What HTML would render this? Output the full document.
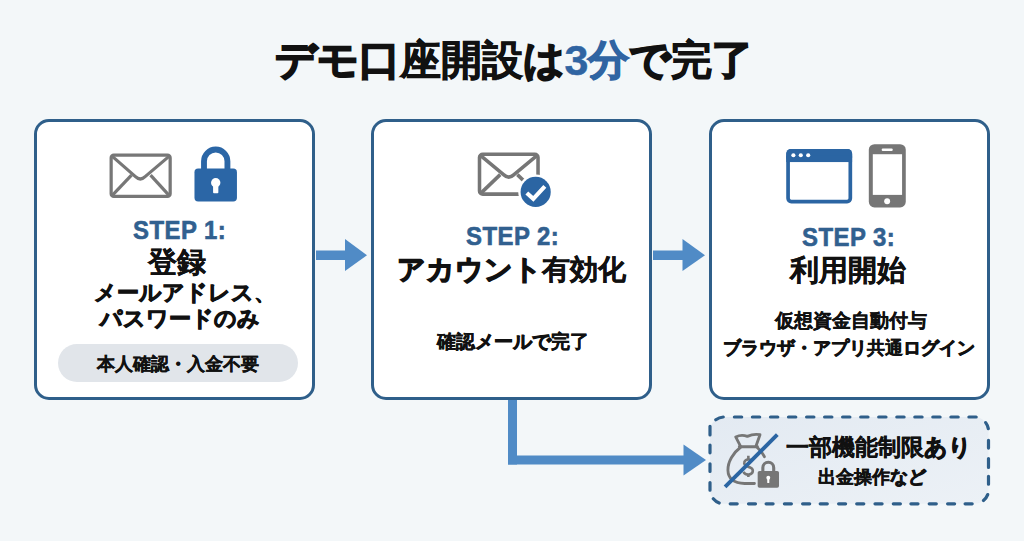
<!DOCTYPE html>
<html lang="ja">
<head>
<meta charset="utf-8">
<style>
html,body{margin:0;padding:0;}
body{width:1024px;height:541px;overflow:hidden;position:relative;background:#f3f7f9;font-family:"Liberation Sans",sans-serif;color:#111;}
.abs{position:absolute;}
.t{position:absolute;white-space:nowrap;text-align:left;font-weight:bold;line-height:1;}
.card{position:absolute;top:119px;width:275px;height:275px;border:3.5px solid #2f5f8a;border-radius:15px;background:#fff;}
.b3{color:#2f64a2;-webkit-text-stroke:1.3px #2f64a2;font-size:43px;}
.jp{position:relative;top:-1px;font-size:41px;}
.tk{-webkit-text-stroke:1.7px #111;}
.d3{-webkit-text-stroke:0.4px #2f64a2;}
</style>
</head>
<body>
<!-- Cards -->
<div class="card" style="left:34px;"></div>
<div class="card" style="left:371px;"></div>
<div class="card" style="left:709px;"></div>

<!-- arrows between cards -->
<svg class="abs" style="left:0;top:0" width="1024" height="541">
  <rect x="316" y="250.5" width="30" height="9.5" fill="#508bc6"/>
  <polygon points="345,239 367,255.2 345,271" fill="#508bc6"/>
  <rect x="653" y="250.5" width="30" height="9.5" fill="#508bc6"/>
  <polygon points="682.5,239 705,255.2 682.5,271" fill="#508bc6"/>
  <rect x="508" y="400" width="9" height="64.5" fill="#508bc6"/>
  <rect x="508" y="455.5" width="176" height="9" fill="#508bc6"/>
  <polygon points="683.5,444.5 706,460 683.5,475.5" fill="#508bc6"/>
  <defs><linearGradient id="dg" x1="0" y1="0" x2="1" y2="1"><stop offset="0" stop-color="#e3eaf2"/><stop offset="1" stop-color="#ecf1f6"/></linearGradient></defs>
  <!-- dashed box -->
  <path d="M724.0 417.0H974.5A14.0 14.0 0 0 1 988.5 431.0V489.8A14.0 14.0 0 0 1 974.5 503.8H724.0A14.0 14.0 0 0 1 710.0 489.8V431.0A14.0 14.0 0 0 1 724.0 417.0Z" fill="url(#dg)"/>
  <path d="M734.4 417.0H741.7M752.4 417.0H759.7M770.5 417.0H777.8M788.5 417.0H795.8M806.6 417.0H813.9M824.6 417.0H831.9M842.6 417.0H849.9M860.7 417.0H868.0M878.7 417.0H886.0M896.8 417.0H904.1M914.8 417.0H922.1M932.8 417.0H940.1M950.9 417.0H958.2M968.9 417.0H976.2M730.2 503.8H737.2M748.5 503.8H755.5M766.1 503.8H773.1M784.4 503.8H791.4M802.6 503.8H809.7M820.2 503.8H827.3M838.6 503.8H845.6M856.7 503.8H863.8M875.0 503.8H882.1M893.3 503.8H900.4M910.9 503.8H918.0M929.2 503.8H936.3M947.6 503.8H954.6M965.1 503.8H972.2M710.0 426.3V435.0M710.0 445.1V452.8M710.0 463.8V471.5M710.0 482.6V490.2M988.5 440.3V448.1M988.5 458.6V467.4M988.5 476.3V484.2M715.8 419.7A14.0 14.0 0 0 1 723.3 417.0M985.7 422.6A14.0 14.0 0 0 1 988.3 428.6M987.7 494.6A14.0 14.0 0 0 1 983.5 500.5M719.2 503.0A14.0 14.0 0 0 1 713.3 498.8" fill="none" stroke="#2f5f8a" stroke-width="3.2" stroke-linecap="round"/>
</svg>

<!-- Card 1 content -->
<svg class="abs" style="left:100px;top:140px" width="150" height="70" viewBox="0 0 1024 478">
  <rect x="76" y="103" width="403" height="282" rx="18" fill="none" stroke="#777" stroke-width="22"/>
  <path d="M82 110 L242 250 Q275 282 308 250 L473 110" fill="none" stroke="#777" stroke-width="22" stroke-linejoin="round"/>
  <line x1="82" y1="380" x2="215" y2="240" stroke="#777" stroke-width="22"/>
  <line x1="473" y1="380" x2="345" y2="240" stroke="#777" stroke-width="22"/>
  <path d="M710 205 V145 A80 80 0 0 1 870 145 V205" fill="none" stroke="#2b66a6" stroke-width="40"/>
  <rect x="645" y="195" width="290" height="225" rx="25" fill="#2b66a6"/>
  <circle cx="790" cy="292" r="32" fill="#fff"/>
  <rect x="772" y="295" width="36" height="68" rx="6" fill="#fff"/>
</svg>
<div class="abs" style="left:58px;top:344px;width:240px;height:38px;border-radius:19px;background:#e1e5ea;"></div>

<!-- Card 2 icon -->
<svg class="abs" style="left:460px;top:135px" width="120" height="80" viewBox="0 0 812 541">
  <defs><clipPath id="c2"><path d="M0 0 H812 V541 H0 Z M512 385 m-118 0 a118 118 0 1 0 236 0 a118 118 0 1 0 -236 0 Z" clip-rule="evenodd"/></clipPath></defs>
  <g clip-path="url(#c2)" fill="none" stroke="#767676" stroke-width="24">
    <rect x="132" y="130" width="396" height="270" rx="22"/>
    <path d="M140 140 L297 270 Q330 300 363 270 L520 140" stroke-linejoin="round"/>
    <line x1="140" y1="395" x2="272" y2="268"/>
    <line x1="388" y1="268" x2="520" y2="395"/>
  </g>
  <circle cx="512" cy="385" r="102" fill="#2b65a3"/>
  <polyline points="452,392 496,432 574,348" fill="none" stroke="#fff" stroke-width="28" stroke-linejoin="miter"/>
</svg>

<!-- Card 3 icons -->
<svg class="abs" style="left:770px;top:135px" width="150" height="80" viewBox="0 0 1014 541">
  <rect x="122" y="107" width="421" height="343" rx="22" fill="none" stroke="#2b65a3" stroke-width="25"/>
  <rect x="110" y="95" width="445" height="88" rx="30" fill="#2b65a3"/>
  <rect x="110" y="140" width="445" height="43" fill="#2b65a3"/>
  <circle cx="158" cy="137" r="14" fill="#fff"/>
  <circle cx="208" cy="137" r="14" fill="#fff"/>
  <circle cx="258" cy="137" r="14" fill="#fff"/>
  <rect x="668" y="62" width="250" height="428" rx="38" fill="#767676"/>
  <rect x="695" y="130" width="198" height="275" fill="#fff"/>
  <rect x="755" y="92" width="75" height="16" rx="8" fill="#fff"/>
  <circle cx="792" cy="448" r="20" fill="#fff"/>
</svg>

<!-- Money bag icon -->
<svg class="abs" style="left:715px;top:425px" width="75" height="70" viewBox="0 0 580 541">
  <g fill="none" stroke="#767676" stroke-width="22" stroke-linecap="round" stroke-linejoin="round">
    <path d="M198 165 L160 92 Q205 70 250 88 Q300 65 348 75 L318 160"/>
    <path d="M188 168 H328"/>
    <path d="M198 172 C140 215 98 285 100 350 C102 420 150 450 230 452 H305"/>
    <path d="M325 172 C350 195 370 220 382 245"/>
  </g>
  <g fill="none" stroke="#767676" stroke-width="20" stroke-linecap="butt">
    <path d="M292 280 C280 262 232 258 226 290 C220 318 262 322 278 332 C300 345 298 378 262 382 C240 384 225 372 220 362"/>
    <path d="M258 238 V262 M258 380 V402"/>
  </g>
  <path d="M370 360 V330 A42 42 0 0 1 454 330 V360" fill="none" stroke="#767676" stroke-width="24"/>
  <rect x="330" y="355" width="165" height="130" rx="14" fill="#767676"/>
  <circle cx="412" cy="408" r="15" fill="#fff"/>
  <rect x="404" y="410" width="16" height="38" rx="4" fill="#fff"/>
  <line x1="78" y1="478" x2="482" y2="75" stroke="#2b65a3" stroke-width="30"/>
</svg>

<!-- Dashed box text -->



<div class="t" style="left:274.50px;top:39.00px;font-size:41.00px;-webkit-text-stroke:0.8px #111;"><span class="jp"><span class="tk">デモ口</span>座開設<span class="tk">は</span></span><span class="b3"><span class="d3">3</span><span class="jp">分</span></span><span class="jp"><span class="tk">で</span>完<span class="tk">了</span></span></div>
<div class="t" style="left:132.50px;top:217.10px;font-size:26.00px;color:#31608f;-webkit-text-stroke:0.6px #31608f;letter-spacing:0.5px;transform:scaleX(0.92);transform-origin:0 0;">STEP 1:</div>
<div class="t" style="left:148.40px;top:248.10px;font-size:29.00px;-webkit-text-stroke:0.3px #111;">登録</div>
<div class="t" style="left:93.70px;top:282.80px;font-size:21.50px;-webkit-text-stroke:0.4px #111;"><span style="-webkit-text-stroke:0.97px #111">メールアドレス</span>、</div>
<div class="t" style="left:99.50px;top:309.00px;font-size:21.50px;-webkit-text-stroke:0.4px #111;"><span style="-webkit-text-stroke:0.97px #111">パスワードのみ</span></div>
<div class="t" style="left:97.00px;top:356.20px;font-size:17.70px;-webkit-text-stroke:0.35px #111;">本人確認<span style="-webkit-text-stroke:0.8px #111">・</span>入金不要</div>
<div class="t" style="left:466.30px;top:223.10px;font-size:26.00px;color:#31608f;-webkit-text-stroke:0.6px #31608f;letter-spacing:0.5px;transform:scaleX(0.92);transform-origin:0 0;">STEP 2:</div>
<div class="t" style="left:397.30px;top:255.80px;font-size:28.00px;-webkit-text-stroke:0.3px #111;"><span style="-webkit-text-stroke:1.26px #111">アカウント</span>有効化</div>
<div class="t" style="left:436.50px;top:332.60px;font-size:18.60px;-webkit-text-stroke:0.35px #111;">確認<span style="-webkit-text-stroke:0.84px #111">メールで</span>完了</div>
<div class="t" style="left:802.00px;top:224.20px;font-size:26.00px;color:#31608f;-webkit-text-stroke:0.6px #31608f;letter-spacing:0.5px;transform:scaleX(0.92);transform-origin:0 0;">STEP 3:</div>
<div class="t" style="left:789.70px;top:255.90px;font-size:29.20px;-webkit-text-stroke:0.3px #111;">利用開始</div>
<div class="t" style="left:774.50px;top:311.60px;font-size:18.60px;-webkit-text-stroke:0.35px #111;">仮想資金自動付与</div>
<div class="t" style="left:723.20px;top:338.80px;font-size:18.00px;-webkit-text-stroke:0.35px #111;"><span style="-webkit-text-stroke:0.81px #111">ブラウザ・アプリ</span>共通<span style="-webkit-text-stroke:0.81px #111">ログイン</span></div>
<div class="t" style="left:786.20px;top:435.60px;font-size:23.00px;-webkit-text-stroke:0.3px #111;">一部機能制限<span style="-webkit-text-stroke:1.03px #111">あり</span></div>
<div class="t" style="left:818.00px;top:468.10px;font-size:18.20px;-webkit-text-stroke:0.35px #111;">出金操作<span style="-webkit-text-stroke:0.82px #111">など</span></div>
</body>
</html>
